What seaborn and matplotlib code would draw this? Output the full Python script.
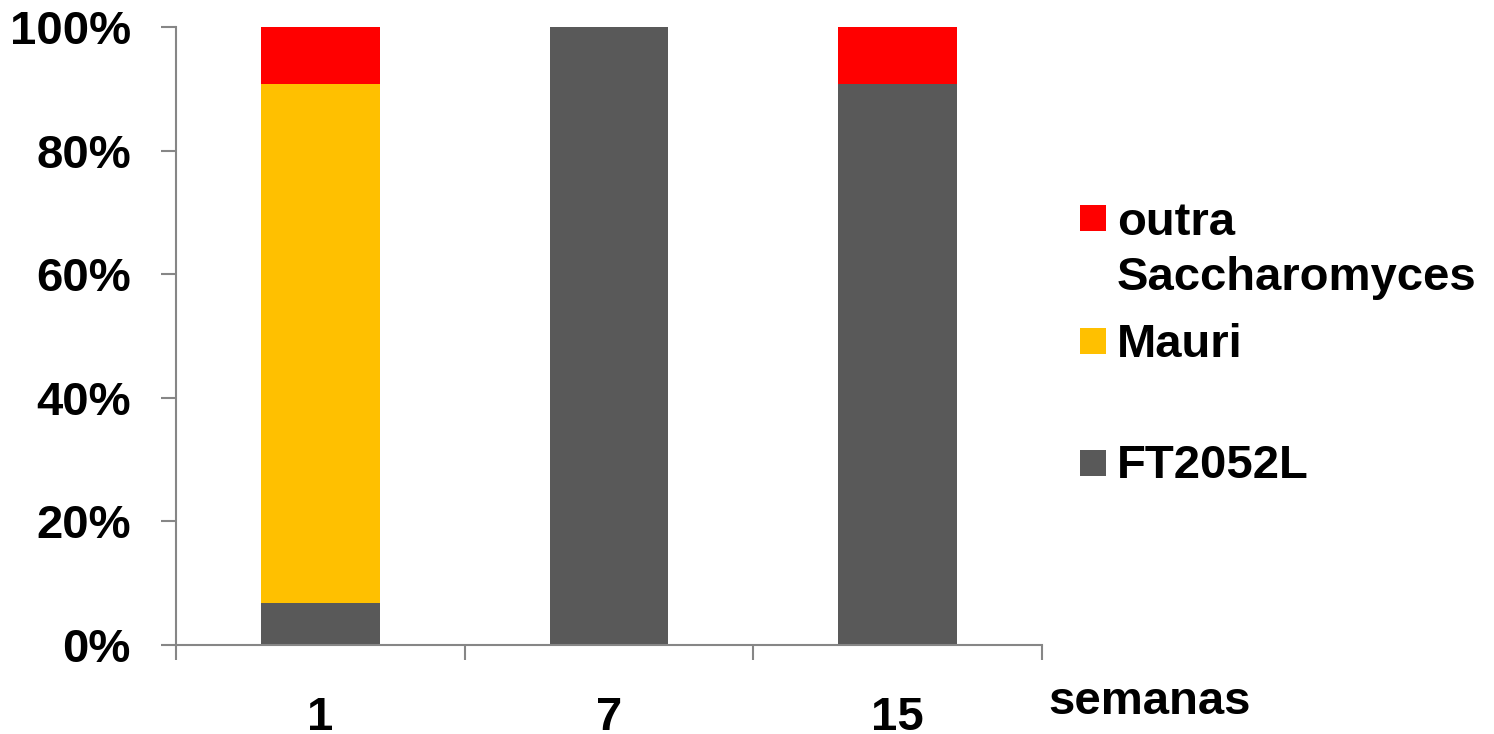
import matplotlib
matplotlib.use("Agg")
import matplotlib.pyplot as plt
from matplotlib.patches import Rectangle
from matplotlib.ticker import FixedLocator, FuncFormatter
import seaborn as sns
import pandas as pd
import numpy as np

# Composição da população de leveduras por semana (%)
semanas = ["1", "7", "15"]
ft2052l = [6.8, 100.0, 90.8]
mauri = [84.0, 0.0, 0.0]
outra = [9.2, 0.0, 9.2]

series_names = ["outra\nSaccharomyces", "Mauri", "FT2052L"]
series_colors = ["#FF0000", "#FFC000", "#595959"]

sns.set_theme(style="white")
plt.rcParams["font.family"] = ["Liberation Sans", "DejaVu Sans"]
plt.rcParams["font.weight"] = "bold"
plt.rcParams["text.color"] = "black"
plt.rcParams["xtick.color"] = "black"
plt.rcParams["ytick.color"] = "black"

df = pd.DataFrame({"semana": semanas, "FT2052L": ft2052l,
                   "Mauri": mauri, "outra": outra})
df["top_mauri"] = df["FT2052L"] + df["Mauri"]
df["top_outra"] = df["top_mauri"] + df["outra"]

W, H = 1494, 734
fig = plt.figure(figsize=(W / 100, H / 100), dpi=100)
ax = fig.add_axes([176 / W, 1 - 645 / H, (1042 - 176) / W, (645 - 27) / H])

bar_w = 0.41
# stacked bars drawn as cumulative layers, top layer first
sns.barplot(data=df, x="semana", y="top_outra", color=series_colors[0],
            width=bar_w, saturation=1, ax=ax, linewidth=0)
sns.barplot(data=df, x="semana", y="top_mauri", color=series_colors[1],
            width=bar_w, saturation=1, ax=ax, linewidth=0)
sns.barplot(data=df, x="semana", y="FT2052L", color=series_colors[2],
            width=bar_w, saturation=1, ax=ax, linewidth=0)

ax.set_xlim(-0.5, 2.5)
ax.set_ylim(0, 100)
ax.set_xlabel("")
ax.set_ylabel("")

axis_color = "#868686"
for side in ["top", "right"]:
    ax.spines[side].set_visible(False)
for side in ["left", "bottom"]:
    ax.spines[side].set_color(axis_color)
    ax.spines[side].set_linewidth(1.5)

ax.set_yticks(np.arange(0, 101, 20))
ax.yaxis.set_major_formatter(FuncFormatter(lambda v, p: f"{int(v)}%"))
ax.tick_params(axis="y", which="major", direction="out", length=10.5, width=1.5,
               color=axis_color, labelcolor="black", pad=22, labelsize=34, left=True)

ax.set_xticks([0, 1, 2])
ax.set_xticklabels(semanas)
ax.xaxis.set_minor_locator(FixedLocator([-0.5, 0.5, 1.5, 2.5]))
ax.tick_params(axis="x", which="major", length=0, pad=37, labelsize=34,
               labelcolor="black")
ax.tick_params(axis="x", which="minor", direction="out", length=10.5, width=1.5,
               color=axis_color, bottom=True)
for lab in ax.get_xticklabels() + ax.get_yticklabels():
    lab.set_fontweight("bold")

fig.text(1048 / W, 1 - 714 / H, "semanas", fontsize=34, fontweight="bold",
         color="black", ha="left", va="baseline")

# legend: square marker aligned with the first line of each entry
legend_rows = [(205, [235, 290]), (328, [357]), (450, [478])]
for name, color, (sq_top, baselines) in zip(series_names, series_colors, legend_rows):
    fig.add_artist(Rectangle((1080 / W, 1 - (sq_top + 26) / H), 26 / W, 26 / H,
                             transform=fig.transFigure, facecolor=color,
                             edgecolor="none"))
    for line, baseline in zip(name.split("\n"), baselines):
        fig.text(1117 / W, 1 - baseline / H, line, fontsize=34, fontweight="bold",
                 color="black", ha="left", va="baseline")

fig.savefig("out.png", dpi=100)
